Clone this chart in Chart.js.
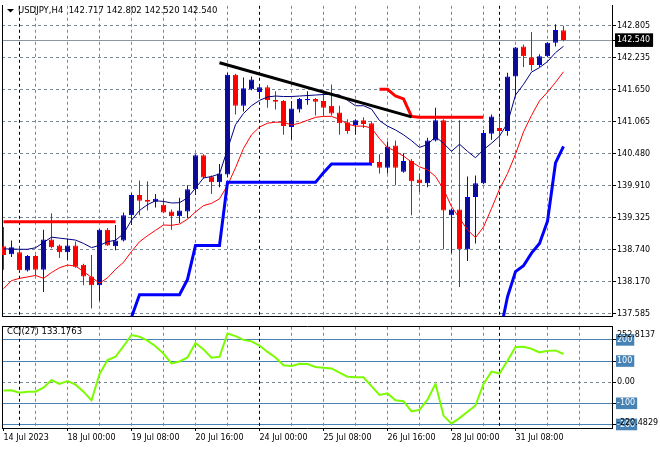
<!DOCTYPE html>
<html><head><meta charset="utf-8">
<script src="https://cdn.jsdelivr.net/npm/chart.js@4.4.0/dist/chart.umd.min.js"></script>
<style>
html,body{margin:0;padding:0;background:#fff;}
#wrap{position:relative;width:660px;height:450px;background:#fff;overflow:hidden}
canvas{position:absolute;left:0}
</style></head><body>
<div id="wrap">
<canvas id="main" width="660" height="322" style="top:0px"></canvas>
<canvas id="cci" width="660" height="129" style="top:321px"></canvas>
</div>
<script>
// ---------- DATA ----------
const symbolTitle = 'USDJPY,H4';
const cciTitle = 'CCI(27)';

const opens = [138.803,138.662,138.698,138.364,138.627,138.381,138.926,138.820,138.698,138.820,
138.469,138.258,138.100,139.102,138.803,138.908,139.365,139.735,139.647,139.611,
139.559,139.436,139.348,139.436,139.840,140.455,140.068,139.963,140.104,141.914,
141.351,141.650,141.598,141.685,141.457,141.439,140.965,141.281,141.452,141.474,
141.439,141.351,141.228,141.053,141.000,141.088,141.035,140.332,140.227,140.631,
140.156,140.350,140.016,139.945,140.719,141.088,139.365,139.471,138.750,139.699,
139.945,140.842,140.947,140.895,141.879,142.424,142.230,142.090,142.248,142.494,
142.717];
const highs = [139.154,138.908,138.803,138.645,138.645,139.102,139.401,138.838,138.944,138.891,
138.487,138.645,139.119,139.137,139.190,139.418,139.770,139.998,139.981,139.752,
139.664,139.471,139.682,139.910,140.473,140.473,140.086,140.297,141.949,141.931,
141.861,141.879,141.738,141.721,141.615,141.457,141.439,141.492,141.615,141.492,
141.580,141.738,141.351,141.105,141.105,141.141,141.070,140.473,140.701,140.719,
140.490,140.385,140.121,140.771,141.316,141.105,139.488,141.088,140.068,140.086,
140.912,141.193,141.141,141.949,142.415,142.459,142.687,142.283,142.500,142.828,
142.802];
const lows = [138.381,138.610,138.355,138.346,138.276,137.977,138.768,138.592,138.557,138.416,
138.100,137.678,137.819,138.812,138.733,138.891,139.190,139.365,139.453,139.506,
139.401,139.102,139.225,139.313,139.735,140.033,139.752,139.875,140.051,141.193,
141.246,141.633,141.492,141.316,141.281,140.824,140.736,141.228,141.369,141.176,
141.176,141.176,140.824,140.842,140.824,140.947,140.262,140.121,140.121,139.910,
140.139,139.365,139.787,139.875,140.701,138.750,138.680,138.065,138.539,138.856,
139.928,140.736,140.648,140.807,141.527,142.055,141.984,142.055,142.230,142.424,
142.520];
const closes = [138.645,138.785,138.368,138.627,138.381,138.926,138.785,138.698,138.820,138.434,
138.258,138.100,139.102,138.820,138.908,139.365,139.735,139.629,139.611,139.664,
139.418,139.348,139.453,139.840,140.455,140.051,139.963,140.121,141.914,141.351,
141.668,141.826,141.685,141.457,141.422,140.982,141.299,141.474,141.474,141.422,
141.316,141.211,141.035,140.895,141.088,141.018,140.314,140.227,140.613,140.227,
140.350,139.981,139.945,140.719,141.088,139.453,139.471,138.750,139.699,139.945,
140.859,141.158,140.895,141.879,142.406,142.248,142.090,142.248,142.494,142.722,
142.540];

const maFast = [138.756,138.756,138.750,138.750,138.777,138.873,138.970,138.952,138.935,138.917,
138.856,138.780,138.820,138.886,138.914,139.031,139.278,139.453,139.559,139.629,
139.617,139.589,139.594,139.682,139.858,140.042,140.068,140.116,140.561,141.009,
141.211,141.351,141.448,141.510,141.527,141.518,141.518,141.527,141.536,141.545,
141.554,141.562,141.545,141.448,141.351,141.351,141.290,141.082,140.982,140.912,
140.824,140.719,140.596,140.648,140.789,140.671,140.525,140.654,140.525,140.408,
140.555,140.671,140.801,141.035,141.545,141.738,141.961,142.042,142.151,142.313,
142.429];
const maSlow = [138.035,138.182,138.223,138.249,138.276,138.223,138.328,138.416,138.464,138.446,
138.346,138.241,138.135,138.232,138.386,138.513,138.710,138.886,138.996,139.093,
139.190,139.184,139.207,139.295,139.427,139.541,139.582,139.664,139.910,140.227,
140.578,140.824,140.965,141.035,141.053,141.053,141.000,141.035,141.088,141.141,
141.158,141.158,141.105,141.018,140.982,140.982,140.947,140.754,140.596,140.525,
140.438,140.332,140.244,140.191,140.068,139.840,139.523,139.313,139.102,138.961,
139.154,139.488,139.840,140.121,140.473,140.877,141.176,141.439,141.598,141.773,
141.967];
const supportLine = [null,null,null,null,null,null,null,null,null,null,
null,null,null,null,null,null,137.520,137.925,137.925,137.925,
137.925,137.925,137.925,138.205,138.820,138.820,138.820,138.820,139.963,139.963,
139.963,139.963,139.963,139.963,139.963,139.963,139.963,139.963,139.963,139.963,
140.139,140.297,140.297,140.297,140.297,140.297,140.297,null,null,null,
null,null,null,null,null,null,null,null,null,null,
null,null,137.186,137.889,138.346,138.451,138.680,138.856,139.260,140.314,
140.613];
const resistanceLine = [139.250,139.250,139.250,139.250,139.250,139.250,139.250,139.250,139.250,139.250,
139.250,139.250,139.250,139.250,139.250,null,null,null,null,null,
null,null,null,null,null,null,null,null,null,null,
null,null,null,null,null,null,null,null,null,null,
null,null,null,null,null,null,null,141.650,141.650,141.527,
141.474,141.158,141.141,141.141,141.141,141.141,141.141,141.141,141.141,141.141,
141.141,null,null,null,null,null,null,null,null,null,
null];
const trendBars = [27, 51];
const trendPrices = [142.130, 141.150];

const cciValues = [-39,-38,-50,-45,-45,-26,10,-8,5,-12,
-45,-86,38,105,120,170,223,215,196,170,
135,89,98,117,185,155,116,120,230,218,
200,193,173,143,117,80,77,87,86,72,
68,65,45,26,23,23,-19,-60,-53,-86,
-90,-138,-131,-83,-8,-158,-196,-170,-140,-110,
-8,50,41,101,166,167,158,141,148,150,
133.1763];

const priceTicks = [137.585,138.165,138.745,139.325,139.905,140.485,141.065,141.645,142.225,142.805];
const priceTickLabels = ['137.585','138.170','138.740','139.325','139.910','140.480','141.065','141.650','142.235','142.805'];
const cciLevels = [-200,-100,100,200];
const cciTickValues = [-200,-191,-100,0,100,200,225.7];
const cciTickLabels = ['-200','-220.4829','-100','0.00','100','200','252.8137'];

const timeLabels = ['14 Jul 2023','18 Jul 00:00','19 Jul 08:00','20 Jul 16:00','24 Jul 00:00','25 Jul 08:00','26 Jul 16:00','28 Jul 00:00','31 Jul 08:00'];
const timeLabelBars = [0,8,16,24,32,40,48,56,64];
const gridBars = [4,8,12,16,20,24,28,36,40,44,48,52,56,60,64,68,72];
const separatorBars = [2,32,62];

// ---------- STYLE ----------
const FONT = {family:"'DejaVu Sans', sans-serif", size:8};
const GRID = '#778899';
const BLUE_FILL = '#0b0b98', BLUE_EDGE = '#0000ff', RED = '#ff0000';
const X_MIN = -0.1875, X_MAX = 76.0625;
const lastClose = closes[closes.length-1];
const idx = closes.map((_, i) => i);
const pts = arr => arr.map((v, i) => ({x: i, y: v}));
const isUp = i => closes[i] >= opens[i];
Chart.defaults.font.family = FONT.family;
Chart.defaults.font.size = FONT.size;

const tickVal = c => (c && c.tick) ? c.tick.value : undefined;
const vGridColor = c => {
  const v = tickVal(c);
  if (v === 0) return 'rgba(0,0,0,0)';
  return separatorBars.includes(v) ? '#000' : GRID;
};
const xTicks = s => {
  s.ticks = [0].concat(gridBars, separatorBars).sort((a,b)=>a-b).map(v => ({value: v}));
};
const DASH = [3,3];
const dashedBorder = {display:true, color:'#000', width:1, dash: c => (c && c.tick) ? DASH : []};
const plainBorder = {display:true, color:'#000', width:1};

const headerPlugin = {
  id: 'header',
  afterDraw(chart) {
    const ctx = chart.ctx;
    ctx.save();
    ctx.fillStyle = '#000';
    ctx.beginPath(); ctx.moveTo(7,9); ctx.lineTo(14,9); ctx.lineTo(10.5,12.5); ctx.closePath(); ctx.fill();
    ctx.font = "8.5px 'DejaVu Sans', sans-serif";
    ctx.textBaseline = 'middle';
    const n = closes.length - 1;
    ctx.fillText(symbolTitle + '  ' + opens[n].toFixed(3) + ' ' + highs[n].toFixed(3) + ' ' + lows[n].toFixed(3) + ' ' + closes[n].toFixed(3), 18, 10.5);
    ctx.restore();
  }
};
const cciHeaderPlugin = {
  id: 'cciheader',
  afterDraw(chart) {
    const ctx = chart.ctx;
    ctx.save();
    ctx.fillStyle = '#000';
    ctx.font = "8.5px 'DejaVu Sans', sans-serif";
    ctx.textBaseline = 'middle';
    ctx.fillText(cciTitle + ' ' + cciValues[cciValues.length-1].toFixed(4), 7, 10.7);
    ctx.restore();
  }
};

const lineDs = (label, data, color, width, order) => ({
  type:'line', label, data, borderColor: color, borderWidth: width, pointRadius: 0,
  fill:false, tension:0, spanGaps:false, clip:0, order, xAxisID:'x', yAxisID:'y'
});

new Chart(document.getElementById('main'), {
  type: 'line',
  data: { datasets: [
    lineDs('Trend line', trendBars.map((b,k) => ({x:b, y:trendPrices[k]})), '#000', 3, 0),
    lineDs('Resistance', pts(resistanceLine), RED, 3, 1),
    lineDs('Support', pts(supportLine), BLUE_EDGE, 3, 2),
    lineDs('Fast MA', pts(maFast), '#000080', 1, 3),
    lineDs('Slow MA', pts(maSlow), RED, 1, 4),
    { type:'bar', label:'Body', data: idx.map(i => ({x:i, y:[opens[i], closes[i]]})),
      backgroundColor: idx.map(i => isUp(i) ? BLUE_FILL : RED),
      borderColor: idx.map(i => isUp(i) ? BLUE_EDGE : RED),
      borderWidth:1, borderSkipped:false, barThickness:5, grouped:false, minBarLength:1,
      inflateAmount:0, order:5, xAxisID:'x', yAxisID:'y' },
    { type:'bar', label:'Wick', data: idx.map(i => ({x:i, y:[lows[i], highs[i]]})),
      backgroundColor: idx.map(i => isUp(i) ? BLUE_EDGE : RED),
      borderWidth:0, barThickness:1, grouped:false, inflateAmount:0, order:6, xAxisID:'x', yAxisID:'y' }
  ]},
  options: {
    responsive:false, animation:false, events:[],
    layout:{padding:0, autoPadding:false},
    plugins:{legend:{display:false}, tooltip:{enabled:false}},
    scales: {
      y: {
        type:'linear', position:'right', min:137.5375, max:143.1618,
        afterFit: s => { s.width = 48; },
        afterBuildTicks: s => { s.ticks = priceTicks.concat([lastClose]).sort((a,b)=>a-b).map(v => ({value:v})); },
        ticks: {
          autoSkip:false, padding:1, font:FONT,
          color: c => tickVal(c) === lastClose ? '#fff' : '#000',
          showLabelBackdrop: c => tickVal(c) === lastClose,
          backdropColor:'#000', backdropPadding:{top:2, bottom:2, left:2, right:3},
          callback: v => v === lastClose ? lastClose.toFixed(3) : priceTickLabels[priceTicks.indexOf(v)]
        },
        grid: {
          color: c => tickVal(c) === lastClose ? '#8a97a3' : GRID,
          lineWidth:1, tickLength:4, tickColor:'#000', tickBorderDash:[]
        },
        border: {display:true, color:'#000', width:1,
          dash: c => (c && c.tick && c.tick.value !== lastClose) ? DASH : []}
      },
      yl: {
        type:'linear', position:'left', display:true,
        afterFit: s => { s.width = 2; },
        ticks:{display:false}, grid:{display:false, drawTicks:false}, border: plainBorder
      },
      x: {
        type:'linear', position:'bottom', min:X_MIN, max:X_MAX, offset:false,
        afterFit: s => { s.height = 2; },
        afterBuildTicks: xTicks,
        ticks:{display:false},
        grid:{color: vGridColor, lineWidth:1, drawTicks:false, offset:false},
        border: dashedBorder
      }
    }
  },
  plugins:[headerPlugin]
});

const isLevel = c => cciLevels.includes(tickVal(c));
new Chart(document.getElementById('cci'), {
  type:'line',
  data:{ datasets:[
    { type:'line', label:cciTitle, data: pts(cciValues), borderColor:'#7cfc00', borderWidth:2,
      pointRadius:0, fill:false, tension:0, clip:0, xAxisID:'x', yAxisID:'y' }
  ]},
  options:{
    responsive:false, animation:false, events:[],
    layout:{padding:0, autoPadding:false},
    plugins:{legend:{display:false}, tooltip:{enabled:false}},
    scales:{
      y: {
        type:'linear', position:'right', min:-216.7, max:261.85,
        afterFit: s => { s.width = 48; },
        afterBuildTicks: s => { s.ticks = cciTickValues.map(v => ({value:v})); },
        ticks:{
          autoSkip:false, padding:1, font:FONT,
          color: c => isLevel(c) ? '#fff' : '#000',
          showLabelBackdrop: c => isLevel(c),
          backdropColor:'#4682b4', backdropPadding:{top:1, bottom:1, left:1, right:2},
          callback: v => cciTickLabels[cciTickValues.indexOf(v)]
        },
        grid:{
          color: c => isLevel(c) ? '#4682b4' : (tickVal(c) === 0 ? GRID : 'rgba(0,0,0,0)'),
          lineWidth:1, tickLength:4,
          tickColor: c => (isLevel(c) || tickVal(c) === 0) ? '#000' : 'rgba(0,0,0,0)',
          tickBorderDash:[]
        },
        border: {display:true, color:'#000', width:1,
          dash: c => (c && c.tick && c.tick.value === 0) ? DASH : []}
      },
      yl: {
        type:'linear', position:'left', display:true,
        afterFit: s => { s.width = 2; },
        ticks:{display:false}, grid:{display:false, drawTicks:false}, border: plainBorder
      },
      xt: {
        type:'linear', position:'top', display:true, min:X_MIN, max:X_MAX,
        afterFit: s => { s.height = 1; },
        ticks:{display:false}, grid:{display:false, drawTicks:false}, border: plainBorder
      },
      x: {
        type:'linear', position:'bottom', min:X_MIN, max:X_MAX, offset:false,
        afterFit: s => { s.height = 22; },
        afterBuildTicks: xTicks,
        ticks:{
          autoSkip:false, maxRotation:0, minRotation:0, align:'start', padding:2, font:FONT, color:'#000',
          callback: v => { const k = timeLabelBars.indexOf(v); return k >= 0 ? timeLabels[k] : ''; }
        },
        grid:{
          color: vGridColor, lineWidth:1, offset:false, tickLength:3,
          tickColor: c => timeLabelBars.includes(tickVal(c)) ? '#000' : 'rgba(0,0,0,0)',
          tickBorderDash:[]
        },
        border: dashedBorder
      }
    }
  },
  plugins:[cciHeaderPlugin]
});
</script>
</body></html>
